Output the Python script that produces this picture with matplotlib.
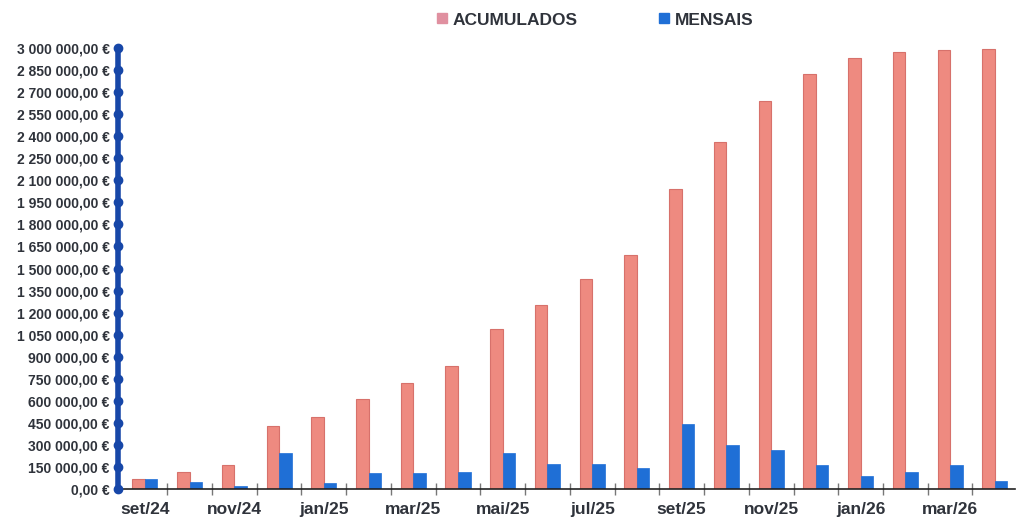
import numpy as np
import matplotlib.pyplot as plt
from matplotlib.lines import Line2D

meses = ['set/24', 'out/24', 'nov/24', 'dez/24', 'jan/25', 'fev/25', 'mar/25',
         'abr/25', 'mai/25', 'jun/25', 'jul/25', 'ago/25', 'set/25', 'out/25',
         'nov/25', 'dez/25', 'jan/26', 'fev/26', 'mar/26', 'abr/26']
acumulados = [68000, 120000, 165000, 430000, 490000, 610000, 720000, 835000,
              1086000, 1249000, 1432000, 1595000, 2043000, 2363000, 2641000,
              2824000, 2933000, 2975000, 2985000, 2993000]
mensais = [68000, 48000, 25000, 245000, 45000, 110000, 110000, 120000,
           245000, 170000, 170000, 145000, 440000, 300000, 265000,
           165000, 90000, 115000, 165000, 55000]
y_ticks = list(range(0, 3000001, 150000))

cor_acum = '#EE8A80'
cor_mens = '#1F6FD6'
cor_eixo = '#1747A8'
cor_texto = '#2f333b'
fonte = ['Liberation Sans', 'DejaVu Sans']


def euros(v):
    s = '{:,.2f}'.format(v).replace(',', ' ').replace('.', ',')
    return s + ' €'


fig = plt.figure(figsize=(10.17, 5.26), dpi=100)
ax = fig.add_axes([0.116, 0.070, 0.882, 0.839])

x = np.arange(len(meses))
w = 0.28
ax.bar(x - w / 2, acumulados, width=w, color=cor_acum, edgecolor='#D7716B', linewidth=0.8)
ax.bar(x + w / 2, mensais, width=w, color=cor_mens, edgecolor=cor_mens, linewidth=0.5)

ax.set_xlim(-0.6, 19.45)
ax.set_ylim(0, 3000000)

# eixo y: linha azul grossa com pontos
ax.set_yticks(y_ticks)
ax.set_yticklabels([euros(v) for v in y_ticks], fontsize=10, fontweight='bold',
                   color=cor_texto, family=fonte)
ax.tick_params(axis='y', length=0, pad=6)
ax.spines['left'].set_color(cor_eixo)
ax.spines['left'].set_linewidth(4)
ax.plot(np.zeros(len(y_ticks)), y_ticks, 'o', color=cor_eixo, ms=6,
        transform=ax.get_yaxis_transform(), clip_on=False, zorder=5)

# eixo x
ax.set_xticks(x[::2])
ax.set_xticklabels(meses[::2], fontsize=12.5, fontweight='bold', color=cor_texto,
                   family=fonte)
ax.tick_params(axis='x', length=0, pad=9)
ax.set_xticks(x[:-1] + 0.5, minor=True)
ax.tick_params(axis='x', which='minor', length=9, direction='inout', color='#777777', width=1)
ax.spines['bottom'].set_color('#222222')
ax.spines['bottom'].set_linewidth(1.2)
for s in ['top', 'right']:
    ax.spines[s].set_visible(False)

handles = [Line2D([], [], marker='s', ls='', color='#E090A0', ms=7),
           Line2D([], [], marker='s', ls='', color=cor_mens, ms=7)]
leg = fig.legend(handles, ['ACUMULADOS', 'MENSAIS'], loc='center', ncol=2,
                 bbox_to_anchor=(0.585, 0.962), frameon=False, handlelength=0.6,
                 handletextpad=0.3, columnspacing=4.7,
                 prop={'family': fonte, 'weight': 'bold', 'size': 12.5})
for t in leg.get_texts():
    t.set_color(cor_texto)

fig.savefig('out.png', dpi=100)
